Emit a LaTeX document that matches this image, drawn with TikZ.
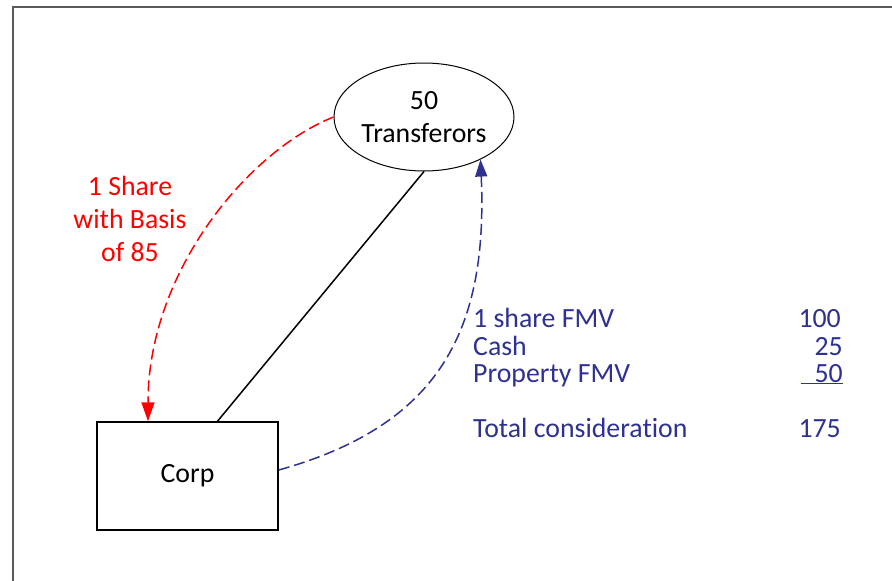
\documentclass[tikz,border=0pt]{standalone}
\usepackage{fontspec}
\setmainfont{Carlito}[Ligatures=NoCommon]
\usetikzlibrary{shapes.geometric,arrows.meta}
\definecolor{sharered}{RGB}{255,0,0}
\definecolor{consblue}{RGB}{46,49,146}
\definecolor{framegray}{RGB}{90,90,90}

\begin{document}
\begin{tikzpicture}[x=1pt,y=-1pt,
  every node/.style={font=\fontsize{27.8}{33}\selectfont},
  txt/.style={inner sep=0pt},
  consline/.style={txt,consblue,font=\fontsize{27.8}{28}\selectfont},
  redflow/.style={sharered,line width=1.5pt,dash pattern=on 11pt off 5pt,-{Triangle[length=19pt,width=13pt]}},
  blueflow/.style={consblue,line width=1.5pt,dash pattern=on 11pt off 5pt,-{Triangle[length=17pt,width=12pt]}}]
  \useasboundingbox (0,0) rectangle (892,581);
  \draw[framegray,line width=2pt] (13,581) -- (13,6.5) -- (892,6.5);
  % parties
  \node[ellipse,draw,line width=1pt,minimum width=180pt,minimum height=108pt,inner sep=0pt,align=center] at (424,117) (transf) {50\\Transferors};
  \node[rectangle,draw,line width=1.5pt,minimum width=181pt,minimum height=108pt] at (187.5,476) (corp) {Corp};
  \draw[line width=1.5pt] (transf.south) -- ([xshift=30pt]corp.north);
  % red flow
  \node[txt,sharered,align=center] at (130,219) (basis) {1 Share\\with Basis\\of 85};
  \draw[redflow] (transf.west) .. controls (250,150) and (148,270) .. ([xshift=-39.5pt]corp.north);
  % blue flow
  \draw[blueflow] ([yshift=6pt]corp.east) .. controls (440,425) and (488,330) .. (transf.-37);
  \node[consline,anchor=base west] at (473,327) (lshare) {1 share FMV};
  \node[consline,anchor=base west] at (473,355) (lcash) {Cash};
  \node[consline,anchor=base west] at (473,382) (lprop) {Property FMV};
  \node[consline,anchor=base west] at (473,437) (ltotal) {Total consideration};
  \node[consline,anchor=base east] at (841,327) (vshare) {100};
  \node[consline,anchor=base east] at (843,355) (vcash) {25};
  \node[consline,anchor=base east] at (843,382) (vprop) {\underline{\hphantom{1}50}};
  \node[consline,anchor=base east] at (841,437) (vtotal) {175};
\end{tikzpicture}
\end{document}
